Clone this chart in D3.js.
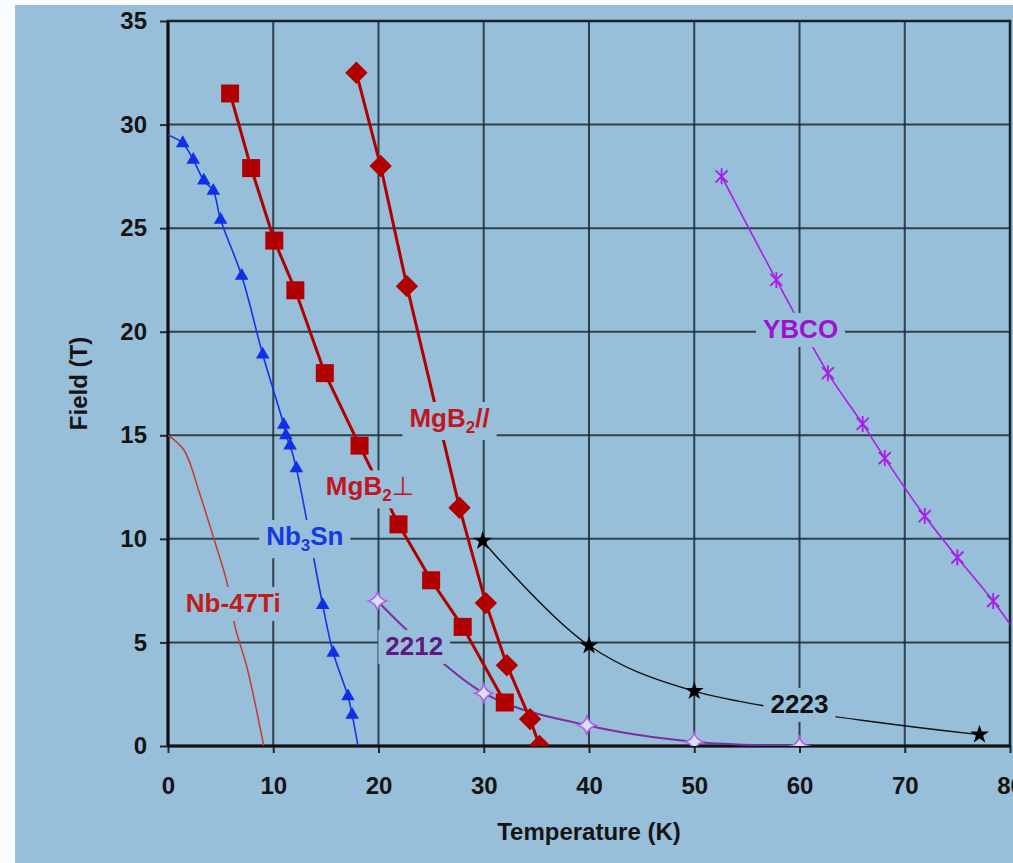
<!DOCTYPE html>
<html>
<head>
<meta charset="utf-8">
<script src="https://cdn.jsdelivr.net/npm/d3@7"></script>
<style>
  body { margin: 0; background: #fafcfe; }
  svg { display: block; }
</style>
</head>
<body>
<div id="chart"></div>
<script>
// Upper critical field vs temperature: [T (K), B (T)]
const nbTi = [[0, 15], [1.5, 14.3], [3, 12.2], [4.3, 10.1], [5.6, 7.9], [6.4, 5.7], [7.5, 3.8], [9.1, 0]];
const nb3Sn = [[0, 29.5], [1.4, 29.1], [2.4, 28.3], [3.4, 27.3], [4.3, 26.8], [5.0, 25.4], [7.0, 22.7],
  [9.0, 18.9], [11.0, 15.5], [11.2, 15.0], [11.6, 14.5], [12.2, 13.4], [14.7, 6.8], [15.7, 4.5],
  [17.1, 2.4], [17.5, 1.5], [18.05, 0]];
const mgb2Perp = [[5.9, 31.5], [7.9, 27.9], [10.1, 24.4], [12.1, 22.0], [14.9, 18.0], [18.2, 14.5],
  [21.9, 10.7], [25.0, 8.0], [28.0, 5.75], [32.0, 2.1]];
const mgb2Par = [[17.9, 32.5], [20.2, 28.0], [22.7, 22.2], [27.7, 11.5], [30.2, 6.9], [32.2, 3.9],
  [34.4, 1.3], [35.3, 0]];
const bi2223 = [[29.9, 9.9], [40, 4.85], [50, 2.65], [77.1, 0.55]];
const bi2212 = [[19.9, 7.0], [30, 2.55], [39.8, 1.0], [50, 0.2], [60, 0]];
const ybco = [[52.6, 27.5], [57.8, 22.5], [62.7, 18.0], [66.0, 15.55], [68.1, 13.9], [71.9, 11.1],
  [75.0, 9.1], [78.4, 7.0], [81.6, 4.7]];

const xTicks = [0, 10, 20, 30, 40, 50, 60, 70, 80];
const yTicks = [0, 5, 10, 15, 20, 25, 30, 35];

// label text, anchor (T, B) for the text centre / baseline
const labels = [
  { parts: [["MgB", 0], ["2", 1], ["//", 0]], at: [26.75, 15.4], color: "#c0161e" },
  { parts: [["MgB", 0], ["2", 1], ["\u22A5", 2]], at: [19.2, 12.1], color: "#c0161e" },
  { parts: [["Nb", 0], ["3", 1], ["Sn", 0]], at: [13.0, 9.7], color: "#1838e0" },
  { parts: [["Nb-47Ti", 0]], at: [6.2, 6.47], color: "#c01c1c" },
  { parts: [["2212", 0]], at: [23.4, 4.4], color: "#5e1a80" },
  { parts: [["2223", 0]], at: [60.0, 1.6], color: "#111" },
  { parts: [["YBCO", 0]], at: [60.1, 19.7], color: "#a010d0" }
];

const bg = "#98bfd9";
const margin = { top: 21, right: 3, bottom: 117, left: 168 };
const width = 1013 - margin.left - margin.right;
const height = 863 - margin.top - margin.bottom;

const root = d3.select("#chart").append("svg")
  .attr("width", 1013)
  .attr("height", 863)
  .style("font-family", "'Liberation Sans', Arial, sans-serif");

// blue panel
root.append("rect")
  .attr("x", 15).attr("y", 5)
  .attr("width", 1013 - 15).attr("height", 863 - 5)
  .attr("fill", bg);

const svg = root.append("g")
  .attr("transform", `translate(${margin.left},${margin.top})`);

svg.append("clipPath").attr("id", "plot-clip")
  .append("rect").attr("width", width).attr("height", height);

const x = d3.scaleLinear().domain([0, 80]).range([0, width]);
const y = d3.scaleLinear().domain([0, 35]).range([height, 0]);

// grid
svg.append("g").selectAll("line.v")
  .data(xTicks.slice(1, -1))
  .enter().append("line")
  .attr("x1", d => x(d)).attr("x2", d => x(d))
  .attr("y1", 0).attr("y2", height)
  .attr("stroke", "#1c2a33").attr("stroke-width", 2).attr("stroke-opacity", 0.85);

svg.append("g").selectAll("line.h")
  .data(yTicks.slice(1, -1))
  .enter().append("line")
  .attr("x1", 0).attr("x2", width)
  .attr("y1", d => y(d)).attr("y2", d => y(d))
  .attr("stroke", "#1c2a33").attr("stroke-width", 2).attr("stroke-opacity", 0.85);

// axes
const xAxis = svg.append("g")
  .attr("transform", `translate(0,${height})`)
  .call(d3.axisBottom(x).tickValues(xTicks).tickSize(7).tickPadding(24).tickSizeOuter(0));
const yAxis = svg.append("g")
  .call(d3.axisLeft(y).tickValues(yTicks).tickSize(8).tickPadding(13).tickSizeOuter(0));

[xAxis, yAxis].forEach(g => {
  g.select(".domain").remove();
  g.selectAll(".tick line").attr("stroke", "#1c2a33").attr("stroke-width", 2);
  g.selectAll(".tick text")
    .attr("fill", "#141414")
    .style("font-size", "24px")
    .style("font-weight", "bold")
    .style("font-family", "'Liberation Sans', Arial, sans-serif");
});

// plot frame
svg.append("rect")
  .attr("width", width).attr("height", height)
  .attr("fill", "none").attr("stroke", "#1a2228").attr("stroke-width", 2.5);
svg.append("line").attr("x1", 0).attr("x2", 0).attr("y1", 0).attr("y2", height)
  .attr("stroke", "#111").attr("stroke-width", 3);
svg.append("line").attr("x1", 0).attr("x2", width).attr("y1", height).attr("y2", height)
  .attr("stroke", "#111").attr("stroke-width", 3);

// series
const plot = svg.append("g").attr("clip-path", "url(#plot-clip)");

const smooth = d3.line().x(d => x(d[0])).y(d => y(d[1])).curve(d3.curveCatmullRom.alpha(0.5));
const straight = d3.line().x(d => x(d[0])).y(d => y(d[1]));

const series = [
  { data: nbTi, line: smooth, color: "#c83838", width: 1.5 },
  { data: nb3Sn, line: smooth, color: "#1432ee", width: 1.6 },
  { data: bi2223, line: smooth, color: "#111", width: 1.4 },
  { data: bi2212, line: smooth, color: "#7a2fa3", width: 2 },
  { data: ybco, line: smooth, color: "#a81ee8", width: 1.6 },
  { data: mgb2Perp, line: straight, color: "#b00000", width: 3 },
  { data: mgb2Par, line: straight, color: "#b00000", width: 3 }
];

series.forEach(s => {
  plot.append("path")
    .datum(s.data)
    .attr("d", s.line)
    .attr("fill", "none")
    .attr("stroke", s.color)
    .attr("stroke-width", s.width);
});

// label boxes (mask grid and curves like the original text boxes)
const labelLayer = svg.append("g");
labels.forEach(l => {
  const g = labelLayer.append("g");
  const t = g.append("text")
    .attr("x", x(l.at[0]))
    .attr("y", y(l.at[1]))
    .attr("text-anchor", "middle")
    .attr("fill", l.color)
    .style("font-size", "26px")
    .style("font-weight", "bold");
  let shift = 0;
  l.parts.forEach(p => {
    const ts = t.append("tspan").text(p[0]);
    if (p[1] === 1) {
      ts.style("font-size", "17px").attr("dy", 6);
      shift = 6;
    } else {
      if (shift) { ts.attr("dy", -shift); shift = 0; }
      if (p[1] === 2) ts.style("font-family", "'DejaVu Sans', sans-serif").style("font-weight", "normal");
    }
  });
  const bb = t.node().getBBox();
  g.insert("rect", "text")
    .attr("x", bb.x - 7).attr("y", bb.y - 1)
    .attr("width", bb.width + 14).attr("height", bb.height + 4)
    .attr("fill", bg);
});

// markers
const markerLayer = plot.append("g");
const sym = (type, size) => d3.symbol().type(type).size(size)();
const pos = d => `translate(${x(d[0])},${y(d[1])})`;

markerLayer.selectAll(".tri").data(nb3Sn.slice(1, -1)).enter().append("path")
  .attr("d", sym(d3.symbolTriangle, 80))
  .attr("transform", pos)
  .attr("fill", "#1030e8");

markerLayer.selectAll(".sq").data(mgb2Perp).enter().append("path")
  .attr("d", sym(d3.symbolSquare, 324))
  .attr("transform", pos)
  .attr("fill", "#b00000");

markerLayer.selectAll(".dia").data(mgb2Par).enter().append("path")
  .attr("d", sym(d3.symbolSquare, 250))
  .attr("transform", d => pos(d) + " rotate(45)")
  .attr("fill", "#b00000");

markerLayer.selectAll(".star").data(bi2223).enter().append("path")
  .attr("d", sym(d3.symbolStar, 110))
  .attr("transform", pos)
  .attr("fill", "#000");

markerLayer.selectAll(".astro").data(bi2212).enter().append("path")
  .attr("d", "M0,-9Q2,-2 9,0Q2,2 0,9Q-2,2 -9,0Q-2,-2 0,-9Z")
  .attr("transform", pos)
  .attr("fill", "#d6e2f0")
  .attr("stroke", "#b060e8")
  .attr("stroke-width", 1.6);

markerLayer.selectAll(".ast").data(ybco).enter().append("path")
  .attr("d", "M-6,-6L6,6M-6,6L6,-6M0,-8L0,8")
  .attr("transform", pos)
  .attr("fill", "none")
  .attr("stroke", "#a81ee8")
  .attr("stroke-width", 1.8);

// axis titles
svg.append("text")
  .attr("x", width / 2)
  .attr("y", height + 94)
  .attr("text-anchor", "middle")
  .attr("fill", "#141414")
  .style("font-size", "24px")
  .style("font-weight", "bold")
  .text("Temperature (K)");

svg.append("text")
  .attr("transform", "rotate(-90)")
  .attr("x", -height / 2)
  .attr("y", -81)
  .attr("text-anchor", "middle")
  .attr("fill", "#141414")
  .style("font-size", "24px")
  .style("font-weight", "bold")
  .text("Field (T)");
</script>
</body>
</html>
